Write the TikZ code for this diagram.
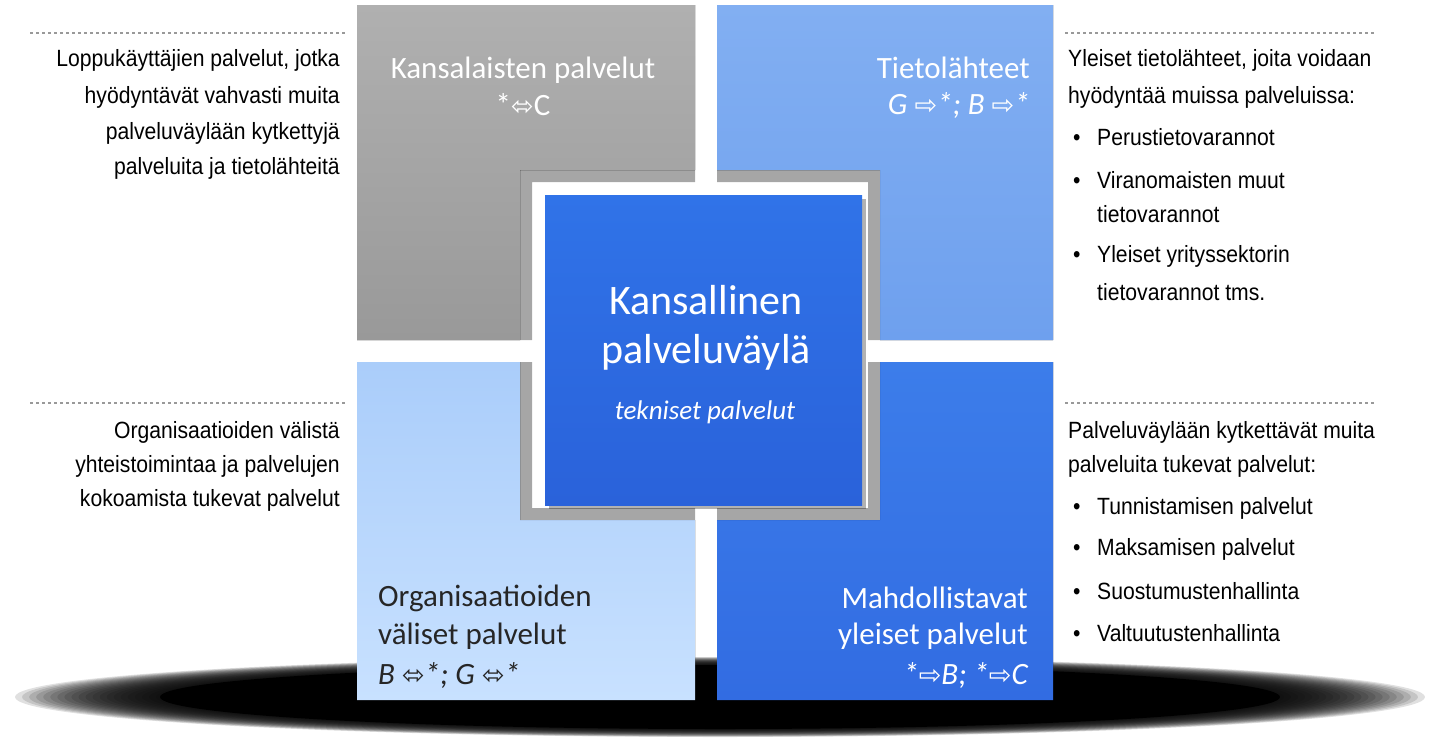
\documentclass[tikz,border=0pt]{standalone}
\usepackage{fontspec}
\setmainfont{Carlito}
\newfontfamily\sidefont[FakeStretch=0.9]{Liberation Sans}
\newfontfamily\arr{DejaVu Sans}
\newcommand{\bul}{\makebox[29pt][l]{\hspace{5pt}•}}
\newcommand{\aR}{{\arr\fontsize{27}{30}\selectfont⇨}}
\newcommand{\aB}{{\arr\fontsize{27}{30}\selectfont⬄}}
\begin{document}
\begin{tikzpicture}[x=1pt,y=-1pt]
\tikzset{
 side/.style={font=\sidefont\fontsize{23.5}{27}\selectfont, inner sep=0pt, text=black},
 boxt/.style={font=\fontsize{31}{36}\selectfont, inner sep=0pt, text=white},
 sepline/.style={draw=gray!80, dashed, line width=1.2pt},
 bev/.style={fill=black, opacity=0.35},
}
\useasboundingbox (0,0) rectangle (1443,737);
% shadow
\foreach \r in {1,0.99,...,0.8}{
 \fill[black,opacity=0.12] (720,697) ellipse ({705*\r} and {40*\r});}
\fill[black] (720,697) ellipse (560 and 32);
% dashed lines
\coordinate (d1a) at (30,33); \coordinate (d1b) at (345,33);
\coordinate (d2a) at (1065,33); \coordinate (d2b) at (1375,33);
\coordinate (d3a) at (30,403); \coordinate (d3b) at (345,403);
\coordinate (d4a) at (1065,403); \coordinate (d4b) at (1375,403);
\draw[sepline] (d1a)--(d1b); \draw[sepline] (d2a)--(d2b);
\draw[sepline] (d3a)--(d3b); \draw[sepline] (d4a)--(d4b);
% top-left L
\fill[top color=gray!62, bottom color=gray!80] (357,5)--(695,5)--(695,170)--(520,170)--(520,340)--(357,340)--cycle;
\fill[bev] (520,170)--(695,170)--(695,182)--(532,182)--(532,340)--(520,340)--cycle;
% top-right L
\fill[top color={rgb,255:red,130;green,175;blue,242}, bottom color={rgb,255:red,110;green,160;blue,238}] (717,5)--(1053,5)--(1053,340)--(880,340)--(880,170)--(717,170)--cycle;
\fill[bev] (717,170)--(880,170)--(880,340)--(868,340)--(868,182)--(717,182)--cycle;
% bottom-left L
\fill[top color={rgb,255:red,170;green,205;blue,250}, bottom color={rgb,255:red,200;green,225;blue,255}] (357,362)--(520,362)--(520,520)--(695,520)--(695,700)--(357,700)--cycle;
\fill[bev] (520,362)--(532,362)--(532,508)--(695,508)--(695,520)--(520,520)--cycle;
% bottom-right L
\fill[top color={rgb,255:red,60;green,125;blue,234}, bottom color={rgb,255:red,50;green,108;blue,226}] (880,362)--(1053,362)--(1053,700)--(717,700)--(717,520)--(880,520)--cycle;
\fill[bev] (868,362)--(880,362)--(880,520)--(717,520)--(717,508)--(868,508)--cycle;
% center
\fill[black,opacity=0.3] (549,199) rectangle (866,509);
\fill[top color={rgb,255:red,48;green,115;blue,232}, bottom color={rgb,255:red,42;green,98;blue,218}] (545,195) rectangle (862,505);
% box texts
\node[boxt] (k1) at (523,70) {Kansalaisten palvelut};
\node[boxt] (k2) at (523,105) {*\aB C};
\node[boxt,anchor=east] (t1) at (1030,68) {Tietolähteet};
\node[boxt,anchor=east] (t2) at (1030,105) {\itshape G \aR*; B \aR*};
\node[boxt,font=\fontsize{42}{48}\selectfont] (c1) at (706,300) {Kansallinen};
\node[boxt,font=\fontsize{42}{48}\selectfont] (c2) at (706,352) {palveluväylä};
\node[boxt,font=\itshape\fontsize{27}{31}\selectfont] (c3) at (705,412) {tekniset palvelut};
\node[boxt,text=black!85,anchor=west] (o1) at (378,598) {Organisaatioiden};
\node[boxt,text=black!85,anchor=west] (o2) at (378,636) {väliset palvelut};
\node[boxt,text=black!85,anchor=west] (o3) at (378,675) {\itshape B \aB*; G \aB*};
\node[boxt,anchor=east] (m1) at (1028,598) {Mahdollistavat};
\node[boxt,anchor=east] (m2) at (1028,636) {yleiset palvelut};
\node[boxt,anchor=east] (m3) at (1028,675) {\itshape *\aR B; *\aR C};
% left side texts
\node[side,anchor=east] (l1) at (340,60) {Loppukäyttäjien palvelut, jotka};
\node[side,anchor=east] (l2) at (340,97) {hyödyntävät vahvasti muita};
\node[side,anchor=east] (l3) at (340,133) {palveluväylään kytkettyjä};
\node[side,anchor=east] (l4) at (340,168) {palveluita ja tietolähteitä};
\node[side,anchor=east] (l5) at (340,432) {Organisaatioiden välistä};
\node[side,anchor=east] (l6) at (340,466) {yhteistoimintaa ja palvelujen};
\node[side,anchor=east] (l7) at (340,500) {kokoamista tukevat palvelut};
% right side texts
\node[side,anchor=west] (r1) at (1068,60) {Yleiset tietolähteet, joita voidaan};
\node[side,anchor=west] (r2) at (1068,97) {hyödyntää muissa palveluissa:};
\node[side,anchor=west] (r3) at (1068,137) {\bul Perustietovarannot};
\node[side,anchor=west] (r4) at (1068,180) {\bul Viranomaisten muut};
\node[side,anchor=west] (r5) at (1097,214) {tietovarannot};
\node[side,anchor=west] (r6) at (1068,256) {\bul Yleiset yrityssektorin};
\node[side,anchor=west] (r7) at (1097,292) {tietovarannot tms.};
\node[side,anchor=west] (s1) at (1068,432) {Palveluväylään kytkettävät muita};
\node[side,anchor=west] (s2) at (1068,466) {palveluita tukevat palvelut:};
\node[side,anchor=west] (s3) at (1068,508) {\bul Tunnistamisen palvelut};
\node[side,anchor=west] (s4) at (1068,549) {\bul Maksamisen palvelut};
\node[side,anchor=west] (s5) at (1068,591) {\bul Suostumustenhallinta};
\node[side,anchor=west] (s6) at (1068,633) {\bul Valtuutustenhallinta};
\end{tikzpicture}
\end{document}
